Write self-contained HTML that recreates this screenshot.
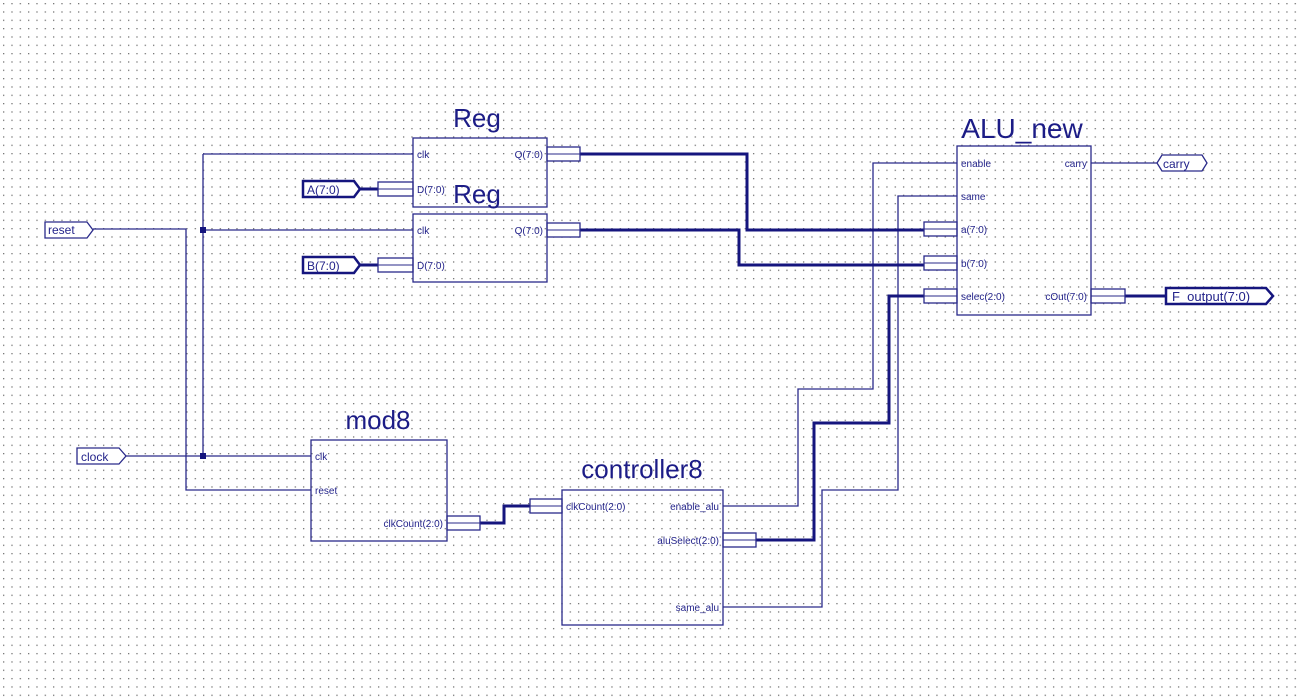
<!DOCTYPE html>
<html><head><meta charset="utf-8"><style>
html,body{margin:0;padding:0;background:#fff;}
svg{display:block;}
text{font-family:"Liberation Sans",Arial,sans-serif;fill:#23238a;}
.p{font-size:10px;}
.t{font-size:26px;fill:#1c1c86;}
</style></head><body>
<svg width="1301" height="697" viewBox="0 0 1301 697" xmlns="http://www.w3.org/2000/svg">
<defs>
<pattern id="g" x="3" y="3" width="8.333" height="8.333" patternUnits="userSpaceOnUse">
<rect x="0" y="0" width="1.3" height="1.3" fill="#777"/>
</pattern>
</defs>
<rect width="1301" height="697" fill="#fff"/>
<rect width="1301" height="697" fill="url(#g)"/>

<g fill="none" stroke="#2a2a8a" stroke-width="1.3">
<!-- reset -->
<polyline points="93,229 186,229 186,490 311,490"/>
<!-- clock -->
<polyline points="126,456 311,456"/>
<polyline points="203,154 203,456"/>
<polyline points="203,154 413,154"/>
<polyline points="203,230 413,230"/>
<!-- enable -->
<polyline points="957,163 873,163 873,389 798,389 798,506 723,506"/>
<!-- same -->
<polyline points="957,196 898,196 898,490 822,490 822,607 723,607"/>
<!-- carry -->
<polyline points="1091,163 1157,163"/>
</g>
<g fill="none" stroke="#15157e" stroke-width="3">
<polyline points="580,154 747,154 747,230 924,230"/>
<polyline points="580,230 739,230 739,265 924,265"/>
<polyline points="924,296 889,296 889,423 814,423 814,540 756,540"/>
<polyline points="480,523 504,523 504,506 530,506"/>
<polyline points="360,189 378,189"/>
<polyline points="360,265 378,265"/>
<polyline points="1125,296 1166,296"/>
</g>
<rect x="200" y="227" width="6" height="6" fill="#15157e"/>
<rect x="200" y="453" width="6" height="6" fill="#15157e"/>

<!-- bus stubs -->
<g fill="#fff" stroke="#2a2a8a" stroke-width="1.3">
<rect x="547" y="147" width="33" height="14"/>
<rect x="547" y="223" width="33" height="14"/>
<rect x="378" y="182" width="35" height="14"/>
<rect x="378" y="258" width="35" height="14"/>
<rect x="924" y="222" width="33" height="14"/>
<rect x="924" y="256" width="33" height="14"/>
<rect x="924" y="289" width="33" height="14"/>
<rect x="1091" y="289" width="34" height="14"/>
<rect x="447" y="516" width="33" height="14"/>
<rect x="530" y="499" width="32" height="14"/>
<rect x="723" y="533" width="33" height="14"/>
</g>
<g stroke="#2a2a8a" stroke-width="1">
<line x1="547" y1="154" x2="580" y2="154"/><line x1="547" y1="230" x2="580" y2="230"/>
<line x1="378" y1="189" x2="413" y2="189"/><line x1="378" y1="265" x2="413" y2="265"/>
<line x1="924" y1="229" x2="957" y2="229"/><line x1="924" y1="263" x2="957" y2="263"/>
<line x1="924" y1="296" x2="957" y2="296"/><line x1="1091" y1="296" x2="1125" y2="296"/>
<line x1="447" y1="523" x2="480" y2="523"/><line x1="530" y1="506" x2="562" y2="506"/>
<line x1="723" y1="540" x2="756" y2="540"/>
</g>

<!-- blocks -->
<g fill="none" stroke="#2a2a8a" stroke-width="1.3">
<rect x="413" y="138" width="134" height="69"/>
<rect x="413" y="214" width="134" height="68"/>
<rect x="957" y="146" width="134" height="169"/>
<rect x="311" y="440" width="136" height="101"/>
<rect x="562" y="490" width="161" height="135"/>
</g>

<!-- port labels -->
<g fill="#fff" stroke="#2a2a8a" stroke-width="1.3">
<polygon points="45,222 87,222 93,230 87,238 45,238"/>
<polygon points="77,448 119,448 126,456 119,464 77,464"/>
<polygon points="1157,163 1162,155 1202,155 1207,163 1202,171 1162,171"/>
</g>
<g fill="#fff" stroke="#15157e" stroke-width="2.5">
<polygon points="303,181 354,181 360,189 354,197 303,197"/>
<polygon points="303,257 354,257 360,265 354,273 303,273"/>
<polygon points="1166,288 1266,288 1273,296 1266,304 1166,304"/>
</g>
<text x="48" y="234" style="font-size:12px">reset</text>
<text x="81" y="461" style="font-size:12px">clock</text>
<text x="1163" y="168" style="font-size:12px">carry</text>
<text x="307" y="194" style="font-size:12px">A(7:0)</text>
<text x="307" y="270" style="font-size:12px">B(7:0)</text>
<text x="1172" y="301" style="font-size:13px">F_output(7:0)</text>

<!-- titles -->
<text class="t" x="477" y="127" text-anchor="middle">Reg</text>
<text class="t" x="477" y="203" text-anchor="middle">Reg</text>
<text class="t" x="1022" y="138" text-anchor="middle" style="font-size:28px">ALU_new</text>
<text class="t" x="378" y="429" text-anchor="middle">mod8</text>
<text class="t" x="642" y="478" text-anchor="middle">controller8</text>

<!-- pin text -->
<g class="p">
<text class="p" x="417" y="158">clk</text>
<text class="p" x="417" y="193">D(7:0)</text>
<text class="p" x="543" y="158" text-anchor="end">Q(7:0)</text>
<text class="p" x="417" y="234">clk</text>
<text class="p" x="417" y="269">D(7:0)</text>
<text class="p" x="543" y="234" text-anchor="end">Q(7:0)</text>

<text class="p" x="961" y="167">enable</text>
<text class="p" x="961" y="200">same</text>
<text class="p" x="961" y="233">a(7:0)</text>
<text class="p" x="961" y="267">b(7:0)</text>
<text class="p" x="961" y="300">selec(2:0)</text>
<text class="p" x="1087" y="167" text-anchor="end">carry</text>
<text class="p" x="1087" y="300" text-anchor="end">cOut(7:0)</text>

<text class="p" x="315" y="460">clk</text>
<text class="p" x="315" y="494">reset</text>
<text class="p" x="443" y="527" text-anchor="end">clkCount(2:0)</text>

<text class="p" x="566" y="510">clkCount(2:0)</text>
<text class="p" x="719" y="510" text-anchor="end">enable_alu</text>
<text class="p" x="719" y="544" text-anchor="end">aluSelect(2:0)</text>
<text class="p" x="719" y="611" text-anchor="end">same_alu</text>
</g>
</svg>
</body></html>
